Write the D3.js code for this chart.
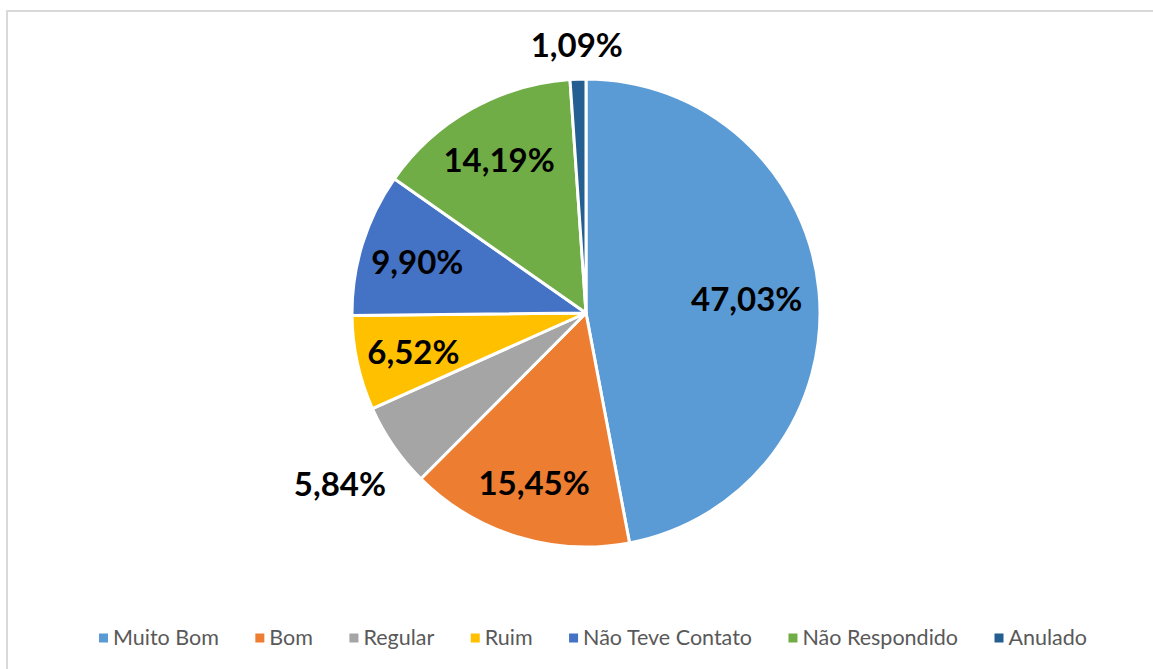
<!DOCTYPE html>
<html>
<head>
<meta charset="utf-8">
<script src="https://cdn.jsdelivr.net/npm/d3@7"></script>
<style>
  html, body { margin: 0; padding: 0; background: #fff; }
  svg { display: block; }
</style>
</head>
<body>
<svg id="chart" width="1153" height="669"></svg>
<script>
const categories = ["Muito Bom", "Bom", "Regular", "Ruim", "Não Teve Contato", "Não Respondido", "Anulado"];
const values = [47.03, 15.45, 5.84, 6.52, 9.90, 14.19, 1.09];
const valueLabels = ["47,03%", "15,45%", "5,84%", "6,52%", "9,90%", "14,19%", "1,09%"];
const colors = ["#5B9BD5", "#ED7D31", "#A5A5A5", "#FFC000", "#4472C4", "#70AD47", "#255E91"];

const W = 1153, H = 669;
const svg = d3.select("#chart");

// chart area border
svg.append("rect")
  .attr("x", 7).attr("y", 11)
  .attr("width", W + 20).attr("height", H + 20)
  .attr("fill", "#fff")
  .attr("stroke", "#d9d9d9").attr("stroke-width", 2);

const cx = 586, cy = 313, R = 234;
const data = categories.map((c, i) => ({ cat: c, value: values[i], label: valueLabels[i], color: colors[i] }));

const pie = d3.pie().value(d => d.value).sort(null);
const arcs = pie(data);
const arc = d3.arc().innerRadius(0).outerRadius(R);

const g = svg.append("g").attr("transform", `translate(${cx},${cy})`);
g.selectAll("path.slice").data(arcs).enter().append("path")
  .attr("class", "slice")
  .attr("d", arc)
  .attr("fill", d => d.data.color)
  .attr("stroke", "#fff").attr("stroke-width", 3).attr("stroke-linejoin", "round");

// labels
const fontFam = "Lato, 'Open Sans', sans-serif";
const inner = R * 0.755;
arcs.forEach((a, i) => {
  const mid = (a.startAngle + a.endAngle) / 2;
  const sx = Math.sin(mid), sy = -Math.cos(mid);
  const t = g.append("text")
    .attr("font-family", fontFam)
    .attr("font-weight", 700)
    .attr("font-size", 33)
    .attr("fill", "#000")
    .attr("text-anchor", "middle")
    .attr("dominant-baseline", "central")
    .text(a.data.label);
  const frac = (a.endAngle - a.startAngle) / (2 * Math.PI);
  let r;
  if (frac < 0.0625) {
    const bb = t.node().getBBox();
    r = R + 18 + (bb.width / 2) * Math.abs(sx) + (bb.height / 2 - 4) * Math.abs(sy);
  } else {
    r = frac > 0.4 ? R * 0.69 : inner;
  }
  t.attr("x", r * sx).attr("y", r * sy);
});

// legend
const legend = svg.append("g");
const sq = 9, gapSq = 5;
const targetW = 988;
const texts = [];
categories.forEach((c, i) => {
  const it = legend.append("g");
  const r = it.append("rect").attr("y", -sq / 2 + 1).attr("width", sq).attr("height", sq).attr("fill", colors[i]);
  const t = it.append("text")
    .attr("y", 0)
    .attr("dominant-baseline", "central")
    .attr("font-family", fontFam)
    .attr("font-size", 21.5)
    .attr("fill", "#595959")
    .text(c);
  texts.push({ r, t, w: t.node().getComputedTextLength() });
});
const sumW = d3.sum(texts, d => sq + gapSq + d.w);
const gapItem = (targetW - sumW) / (categories.length - 1);
let x = 0;
texts.forEach(d => {
  d.r.attr("x", x);
  d.t.attr("x", x + sq + gapSq);
  x += sq + gapSq + d.w + gapItem;
});
legend.attr("transform", `translate(${593 - targetW / 2},637)`);
</script>
</body>
</html>
